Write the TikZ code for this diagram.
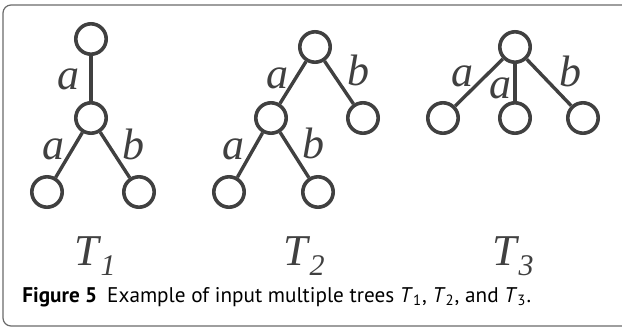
\documentclass[tikz,border=0pt]{standalone}
\usepackage{fontspec}
\setmainfont{Liberation Serif}
\newfontfamily\capfont{PT Sans}
\usetikzlibrary{positioning}
\definecolor{treegray}{HTML}{404040}
\definecolor{framegray}{HTML}{6A6A6A}
\newcommand{\treename}[1]{T\kern1pt\raisebox{-5pt}{\fontsize{15}{15}\selectfont #1}}

\begin{document}
\begin{tikzpicture}[x=0.5pt, y=-0.5pt,
  vtx/.style={circle, draw=treegray, line width=1.8pt, minimum size=15.2pt, inner sep=0pt},
  edge/.style={draw=treegray, line width=1.7pt},
  lbl/.style={font=\fontsize{22}{24}\selectfont\itshape, text=treegray, inner sep=0pt},
  tname/.style={font=\fontsize{22}{24}\selectfont\itshape, text=treegray, inner sep=0pt},
  captext/.style={font=\capfont\fontsize{10.6}{12}\selectfont, anchor=base west, inner sep=0pt}]
\useasboundingbox (0,0) rectangle (622,328);
\draw[framegray, line width=0.6pt, rounded corners=4pt] (3,5) rectangle (660,326);

% T1
\node[vtx] (r1) at (91,39) {};
\node[vtx] (m1) at (91,118) {};
\node[vtx] (l1) at (47,192) {};
\node[vtx] (k1) at (139,192) {};
\draw[edge] (r1) -- (m1);
\draw[edge] (m1) -- (l1);
\draw[edge] (m1) -- (k1);
\node[lbl] (a11) at (68,79) {a};
\node[lbl] (a12) at (53,149) {a};
\node[lbl] (b11) at (133,144) {b};
\node[tname] (t1) at (95,256) {\treename{1}};

% T2
\node[vtx] (r2) at (315,47) {};
\node[vtx] (m2) at (271,118) {};
\node[vtx] (k2) at (363,118) {};
\node[vtx] (l2) at (229,192) {};
\node[vtx] (n2) at (318,192) {};
\draw[edge] (r2) -- (m2);
\draw[edge] (r2) -- (k2);
\draw[edge] (m2) -- (l2);
\draw[edge] (m2) -- (n2);
\node[lbl] (a21) at (277,78) {a};
\node[lbl] (b21) at (358,70) {b};
\node[lbl] (a22) at (233,149) {a};
\node[lbl] (b22) at (313,143) {b};
\node[tname] (t2) at (304,256) {\treename{2}};

% T3
\node[vtx] (r3) at (515,47) {};
\node[vtx] (l3) at (443,118) {};
\node[vtx] (c3) at (515,118) {};
\node[vtx] (k3) at (583,118) {};
\draw[edge] (r3) -- (l3);
\draw[edge] (r3) -- (c3);
\draw[edge] (r3) -- (k3);
\node[lbl] (a31) at (462,76) {a};
\node[lbl] (a32) at (500,88) {a};
\node[lbl] (b31) at (570,71) {b};
\node[tname] (t3) at (513,256) {\treename{3}};

\node[captext] (capt) at (22,302) {\textbf{Figure 5}\hspace{5pt}Example of input multiple trees \textit{T}\textsubscript{1}, \textit{T}\textsubscript{2}, and \textit{T}\textsubscript{3}.};
\end{tikzpicture}
\end{document}
